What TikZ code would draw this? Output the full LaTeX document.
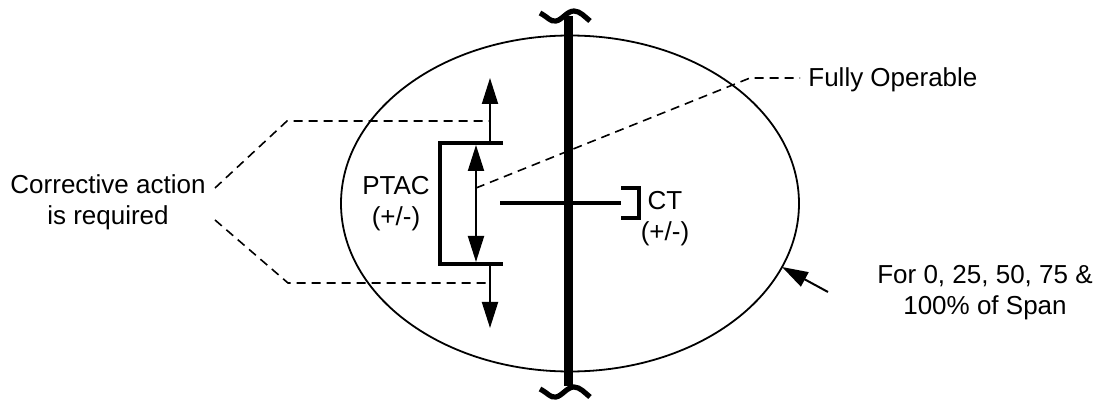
\documentclass[tikz,border=0pt]{standalone}
\usepackage{fontspec}
\setmainfont{Liberation Sans}
\usetikzlibrary{positioning, arrows.meta}
\tikzset{
    txt/.style={font=\fontsize{13}{15.5}\selectfont, align=center, inner sep=0pt},
    bar/.style={line width=4.3pt},
    bracket/.style={line width=1.8pt},
    wave/.style={line width=2.6pt},
    arrow/.style={-{Triangle[length=13pt, width=8pt]}, line width=1pt},
    dblarrow/.style={{Triangle[length=13pt, width=8pt]}-{Triangle[length=13pt, width=8pt]}, line width=1pt},
    leader/.style={dash pattern=on 4.5pt off 3pt, line width=0.8pt}
}

\begin{document}
\begin{tikzpicture}[x=0.5pt, y=-0.5pt]
    \useasboundingbox (0,0) rectangle (1100,401);

    % Labels
    \node[txt] (corrective) at (108,202) {Corrective action\\is required};
    \node[txt] (ptac) at (396,204) {PTAC\\(+/-)};
    \node[txt] (ct) at (665,219) {CT\\(+/-)};
    \node[txt, anchor=west] (fully) at (808,80) {Fully Operable};
    \node[txt] (span) at (985,293) {For 0, 25, 50, 75 \&\\100\% of Span};

    % Key points
    \coordinate (ptop) at (440,143);
    \coordinate (pbot) at (440,264);
    \coordinate (uptip) at (490,78);
    \coordinate (dntip) at (490,328);
    \coordinate (upbase) at (490,143);
    \coordinate (dnbase) at (490,264);
    \coordinate (mid) at (476,188);

    % Dashed leaders
    \draw[leader] (215,188) -- (287,121) -- (490,121);
    \draw[leader] (215,220) -- (288,283) -- (490,283);
    \draw[leader] (mid) -- (750,78) -- (800,78);

    % Envelope
    \draw[line width=0.9pt] (570,203.5) ellipse [x radius=229, y radius=168];
    \draw[arrow] (828,292) -- (782,267);

    % PTAC band
    \draw[bracket] (503,143) -- (ptop) -- (pbot) -- (503,264);
    \draw[dblarrow] (476,145) -- (476,262);
    \draw[arrow] (upbase) -- (uptip);
    \draw[arrow] (dnbase) -- (dntip);

    % CT
    \draw[bracket] (500,203) -- (621,203);
    \draw[bracket] (621,188) -- (639,188) -- (639,218) -- (621,218);

    % Span axis with break marks
    \draw[bar] (568.5,16) -- (568.5,386);
    \foreach \dy in {0,376}{
        \draw[wave, yshift=-\dy*0.5pt] (540,13) .. controls (548,17) and (550,22) .. (556,21)
            .. controls (562,20) and (567,11) .. (574,11)
            .. controls (580,11) and (585,17) .. (590,21);
    }
\end{tikzpicture}
\end{document}
